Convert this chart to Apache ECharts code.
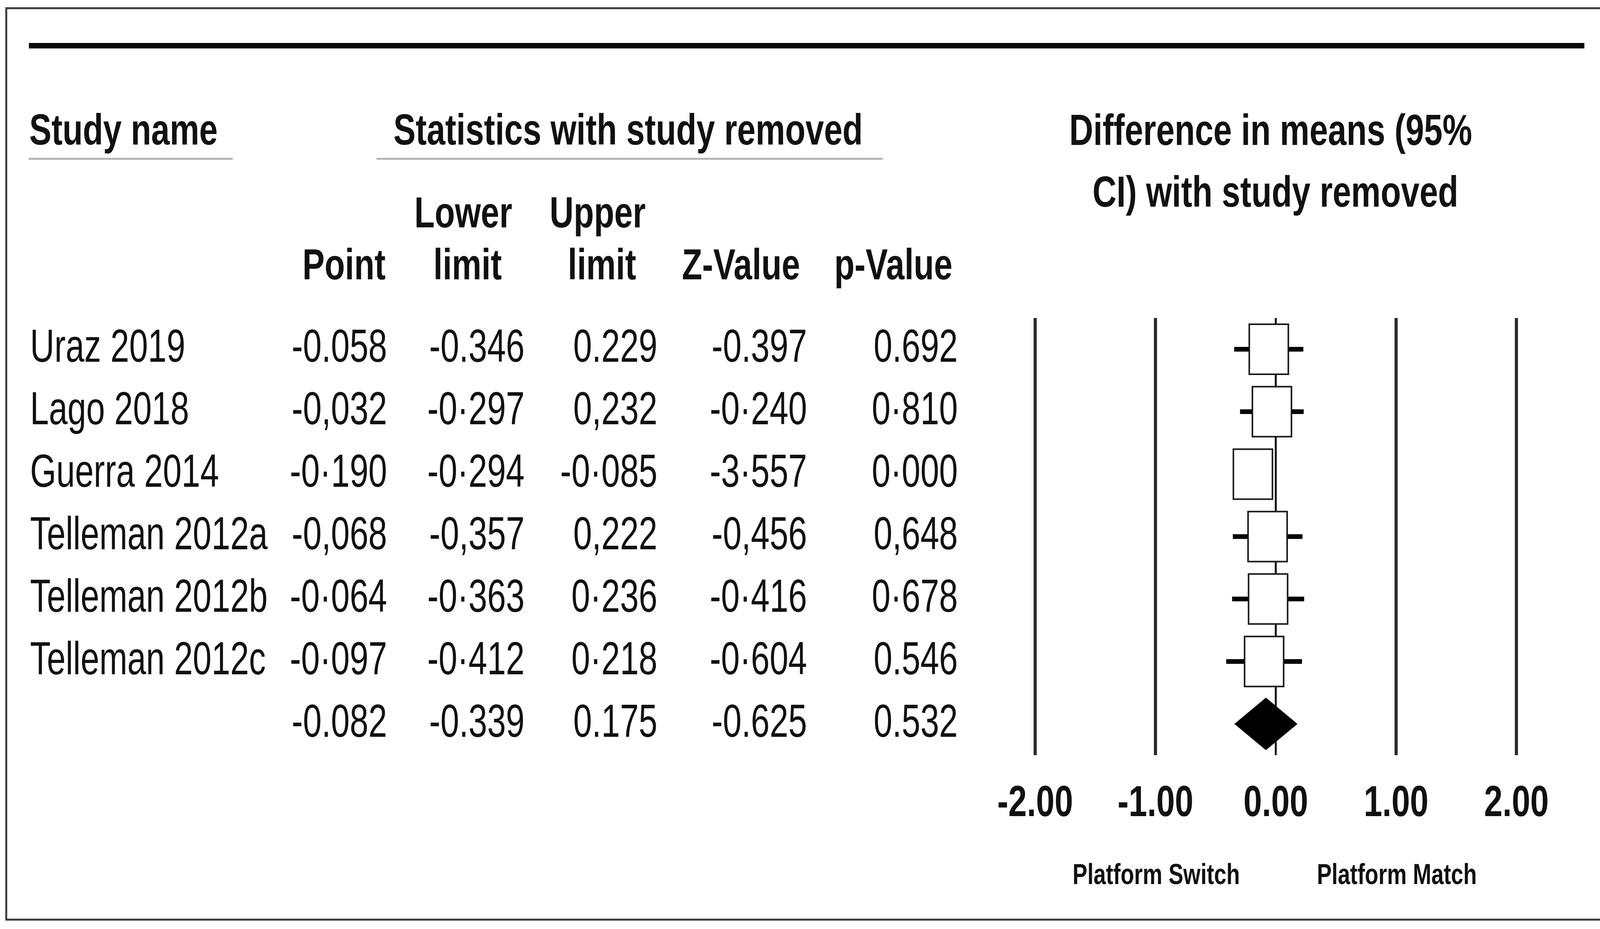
<!DOCTYPE html>
<html>
<head>
<meta charset="utf-8">
<title>Forest plot - study removed</title>
<script src="https://cdn.jsdelivr.net/npm/echarts@6/dist/echarts.min.js"></script>
<style>
  html, body { margin: 0; padding: 0; background: #ffffff; }
  #chart { width: 4135px; height: 2378px; }
</style>
</head>
<body>
<div id="chart"></div>
<script>
// ---------------- DATA ----------------
const rowKeys = ['Uraz 2019', 'Lago 2018', 'Guerra 2014', 'Telleman 2012a', 'Telleman 2012b', 'Telleman 2012c', 'Overall'];
const studyNames = ['Uraz 2019', 'Lago 2018', 'Guerra 2014', 'Telleman 2012a', 'Telleman 2012b', 'Telleman 2012c', ''];
const pointEst = [-0.058, -0.032, -0.190, -0.068, -0.064, -0.097, -0.082];
const lowerLimit = [-0.346, -0.297, -0.294, -0.357, -0.363, -0.412, -0.339];
const upperLimit = [0.229, 0.232, -0.085, 0.222, 0.236, 0.218, 0.175];
const zValue = [-0.397, -0.240, -3.557, -0.456, -0.416, -0.604, -0.625];
const pValue = [0.692, 0.810, 0.000, 0.648, 0.678, 0.546, 0.532];
// decimal mark characters as printed in the source table (per row, per column)
const decimalMarks = ['.....', ',\u00b7,\u00b7\u00b7', '\u00b7\u00b7\u00b7\u00b7\u00b7', ',,,,,', '\u00b7\u00b7\u00b7\u00b7\u00b7', '\u00b7\u00b7\u00b7\u00b7.', '.....'];
const summaryIndex = 6;
const tickValues = [-2, -1, 0, 1, 2];
const tickLabels = ['-2.00', '-1.00', '0.00', '1.00', '2.00'];

// ---------------- STYLE / LAYOUT ----------------
const FONT = '"Liberation Sans", Arial, Helvetica, sans-serif';
const ROW_SIZE = 118, ROW_SX = 0.73;
const HEAD_SIZE = 112, HEAD_SX = 0.76;
const nameX = 77;
const colRight = [991, 1343, 1683, 2066, 2452];

function textEl(str, x, y, align, size, weight, sx) {
  return {
    type: 'text', x: x, y: y, scaleX: sx, scaleY: 1, silent: true,
    style: {
      text: str,
      font: weight + ' ' + size + 'px ' + FONT,
      fill: '#111111',
      align: align, textAlign: align,
      verticalAlign: 'middle', textVerticalAlign: 'middle'
    }
  };
}
function fmt(v, mark) {
  return v.toFixed(3).replace('.', mark);
}

const chart = echarts.init(document.getElementById('chart'), null, { renderer: 'canvas' });

const option = {
  backgroundColor: '#ffffff',
  animation: false,
  tooltip: { show: false },
  grid: { left: 2650, right: 253, top: 814, bottom: 445, containLabel: false },
  xAxis: {
    type: 'value', min: -2, max: 2, interval: 1,
    axisLine: { show: false }, axisTick: { show: false },
    axisLabel: { show: false }, splitLine: { show: false }
  },
  yAxis: {
    type: 'category', data: rowKeys, inverse: true,
    axisLine: { show: false }, axisTick: { show: false },
    axisLabel: { show: false }, splitLine: { show: false }
  },
  graphic: [
    // outer frame
    { type: 'rect', silent: true, shape: { x: 16, y: 21, width: 4102, height: 2333 },
      style: { fill: 'none', stroke: '#3a3a3a', lineWidth: 5 } },
    // thick top rule
    { type: 'rect', silent: true, shape: { x: 74, y: 110, width: 3982, height: 14 },
      style: { fill: '#0a0a0a' } },
    // header underlines
    { type: 'rect', silent: true, shape: { x: 73, y: 404, width: 523, height: 5 },
      style: { fill: '#b4b4b4' } },
    { type: 'rect', silent: true, shape: { x: 964, y: 404, width: 1296, height: 5 },
      style: { fill: '#b4b4b4' } },
    // headers
    textEl('Study name', 75, 339, 'left', HEAD_SIZE, 'bold', HEAD_SX),
    textEl('Statistics with study removed', 1608, 339, 'center', HEAD_SIZE, 'bold', HEAD_SX),
    textEl('Difference in means (95%', 3253, 340, 'center', HEAD_SIZE, 'bold', HEAD_SX),
    textEl('CI) with study removed', 3265, 498, 'center', HEAD_SIZE, 'bold', HEAD_SX),
    textEl('Lower', 1186, 551, 'center', HEAD_SIZE, 'bold', HEAD_SX),
    textEl('limit', 1197, 684, 'center', HEAD_SIZE, 'bold', HEAD_SX),
    textEl('Upper', 1530, 551, 'center', HEAD_SIZE, 'bold', HEAD_SX),
    textEl('limit', 1541, 684, 'center', HEAD_SIZE, 'bold', HEAD_SX),
    textEl('Point', 987, 684, 'right', HEAD_SIZE, 'bold', HEAD_SX),
    textEl('Z-Value', 1897, 684, 'center', HEAD_SIZE, 'bold', HEAD_SX),
    textEl('p-Value', 2287, 684, 'center', HEAD_SIZE, 'bold', HEAD_SX),
    // favours labels
    textEl('Platform Switch', 2960, 2243, 'center', 74, 'bold', 0.766),
    textEl('Platform Match', 3576, 2243, 'center', 74, 'bold', 0.766)
  ],
  series: [
    // vertical reference lines at the ticks
    {
      type: 'custom', name: 'refLines', z: 1, silent: true,
      data: tickValues.map(function (v) { return [v, 0]; }),
      encode: { x: 0, y: 1 },
      renderItem: function (params, api) {
        const v = api.value(0);
        const x = api.coord([v, 0])[0];
        const cs = params.coordSys;
        return {
          type: 'line',
          shape: { x1: x, y1: cs.y, x2: x, y2: cs.y + cs.height },
          style: { stroke: v === 0 ? '#111111' : '#2b2b2b', lineWidth: v === 0 ? 5 : 8 }
        };
      }
    },
    // tick labels through the x scale
    {
      type: 'custom', name: 'tickLabels', z: 2, silent: true,
      data: tickValues.map(function (v) { return [v, 0]; }),
      encode: { x: 0, y: 1 },
      renderItem: function (params, api) {
        const x = api.coord([api.value(0), 0])[0];
        const cs = params.coordSys;
        return textEl(tickLabels[params.dataIndex], x, cs.y + cs.height + 125, 'center', HEAD_SIZE, 'bold', HEAD_SX);
      }
    },
    // CI whiskers, boxes and summary diamond
    {
      type: 'custom', name: 'forest', z: 3, silent: true,
      data: pointEst.map(function (p, i) { return [i, p, lowerLimit[i], upperLimit[i]]; }),
      encode: { y: 0, x: [1, 2, 3] },
      renderItem: function (params, api) {
        const i = api.value(0);
        const pt = api.coord([api.value(1), i]);
        const lo = api.coord([api.value(2), i]);
        const hi = api.coord([api.value(3), i]);
        const y = pt[1];
        if (i === summaryIndex) {
          return {
            type: 'polygon',
            shape: { points: [[lo[0], y], [pt[0], y - 66], [hi[0], y], [pt[0], y + 66]] },
            style: { fill: '#000000', stroke: '#000000', lineWidth: 2 }
          };
        }
        return {
          type: 'group',
          children: [
            { type: 'line', shape: { x1: lo[0], y1: y, x2: hi[0], y2: y },
              style: { stroke: '#000000', lineWidth: 12 } },
            { type: 'rect', shape: { x: pt[0] - 50, y: y - 64, width: 100, height: 128 },
              style: { fill: '#ffffff', stroke: '#1a1a1a', lineWidth: 4 } }
          ]
        };
      }
    },
    // table text rows, placed on the row scale
    {
      type: 'custom', name: 'table', z: 4, silent: true,
      data: pointEst.map(function (p, i) { return [p, i]; }),
      encode: { x: 0, y: 1 },
      renderItem: function (params, api) {
        const i = params.dataIndex;
        const y = api.coord([0, i])[1];
        const marks = decimalMarks[i];
        const cells = [pointEst[i], lowerLimit[i], upperLimit[i], zValue[i], pValue[i]];
        const children = [];
        if (studyNames[i]) children.push(textEl(studyNames[i], nameX, y, 'left', ROW_SIZE, 'normal', ROW_SX));
        cells.forEach(function (v, k) {
          children.push(textEl(fmt(v, marks[k]), colRight[k], y, 'right', ROW_SIZE, 'normal', ROW_SX));
        });
        return { type: 'group', children: children };
      }
    }
  ]
};

chart.setOption(option);
</script>
</body>
</html>
